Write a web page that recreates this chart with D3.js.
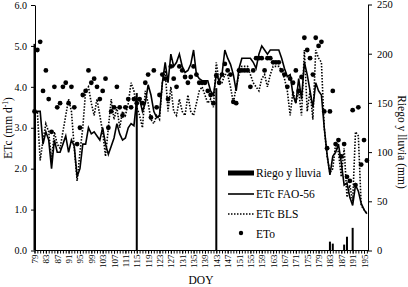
<!DOCTYPE html>
<html><head><meta charset="utf-8">
<script src="https://cdn.jsdelivr.net/npm/d3@7"></script>
<style>
body{margin:0;background:#fff}
svg{display:block}
text{font-family:"Liberation Serif","Times New Roman",serif;fill:#000}
</style>
</head><body>
<svg id="c" width="408" height="287"></svg>
<script>
const days = d3.range(79, 197);
const etcFao = [3.4,3.4,3.4,2.6,2.9,2.7,2.0,2.7,2.4,2.4,2.6,2.8,2.4,2.7,2.55,1.8,2.0,2.6,2.6,3.0,2.85,2.9,2.8,2.7,3.0,2.6,2.35,2.55,2.75,3.1,2.85,2.7,2.75,3.0,3.1,3.05,
  3.7,3.7,3.4,3.6,4.05,3.8,3.4,3.25,3.3,4.1,4.6,4.1,4.8,4.5,4.6,4.8,4.5,4.35,4.4,4.55,4.9,4.3,4.2,4.15,4.15,4.15,3.9,3.8,
  4.3,4.15,4.3,4.9,4.7,4.55,4.3,3.9,4.45,4.7,4.7,4.7,4.7,4.6,4.45,4.8,5.0,4.9,4.8,4.9,4.9,4.9,4.9,4.7,4.45,4.25,4.3,3.8,3.6,4.2,3.7,4.6,4.3,3.9,3.5,4.1,3.9,3.8,
  3.0,2.35,1.85,2.3,2.4,2.6,2.15,1.6,1.65,1.3,1.1,1.6,1.45,1.15,1.0,0.9];
const etcBls = [3.3,3.4,2.2,2.7,3.1,2.9,2.2,2.9,2.6,2.5,2.9,3.3,3.7,3.4,2.5,1.7,2.4,3.0,3.9,4.0,3.6,3.3,3.7,3.3,2.9,2.3,3.0,3.7,3.2,3.5,3.0,3.4,3.3,3.6,4.1,3.9,
  3.5,3.3,3.0,3.9,3.6,3.2,3.1,3.3,3.2,4.1,4.4,3.4,4.0,3.4,3.3,3.7,3.4,3.3,3.8,3.4,3.3,3.6,3.9,4.0,3.8,3.6,3.7,3.5,
  4.6,4.1,4.1,4.3,4.3,4.0,3.6,4.0,4.3,4.5,4.5,4.5,4.3,4.1,4.0,3.9,4.2,4.3,4.0,4.3,4.5,4.5,4.5,4.4,4.2,3.9,3.3,3.9,3.6,3.9,3.3,4.9,3.4,3.9,3.2,4.9,4.7,4.6,
  3.0,2.3,1.9,2.0,2.6,2.4,1.8,2.5,1.3,1.6,1.2,2.9,2.8,1.1,1.0,0.9];
const eto = [3.4,4.9,5.1,3.9,4.4,3.7,2.9,4.0,3.5,3.6,4.0,4.1,3.6,4.0,3.5,2.6,3.0,3.8,3.9,4.4,4.1,4.2,4.0,3.7,3.9,4.2,3.0,3.4,3.5,4.0,3.5,3.3,3.5,3.7,3.5,3.7,
  3.6,3.7,3.6,4.1,4.3,3.25,4.4,3.5,3.8,4.3,4.2,3.7,4.5,4.2,4.0,4.5,4.4,4.24,4.1,4.24,4.5,4.3,4.1,4.1,4.1,3.9,3.8,3.6,
  4.28,4.1,4.3,4.56,4.4,4.3,3.63,3.6,4.4,4.4,4.4,4.4,4.0,4.4,4.7,4.7,4.7,4.4,4.7,4.7,4.6,4.6,4.6,4.4,4.3,4.0,4.2,4.1,4.4,3.9,4.24,5.2,4.9,4.7,4.3,5.2,5.0,5.1,
  3.4,2.5,3.4,3.9,2.6,2.7,2.3,2.6,1.8,1.7,3.43,1.6,3.5,2.1,2.7,2.2];
const rainDays = [79,115,143,183,184,188,189,191];
const rainMm = [210,160,165,9,7,6,14,23];
const xLabelTicks = d3.range(79, 196, 4);
const yLeftTicks = [0,1,2,3,4,5,6];
const yRightTicks = [0,50,100,150,200,250];
const legendItems = ["Riego y lluvia","ETc FAO-56","ETc BLS","ETo"];

const svg = d3.select('#c');
const x = d3.scaleLinear().domain([79, 196.4]).range([34.5, 368]);
const yL = d3.scaleLinear().domain([0, 6]).range([250.5, 5]);
const yR = d3.scaleLinear().domain([0, 250]).range([250.5, 4.5]);

// bars
svg.append('g').selectAll('rect').data(rainDays).join('rect')
  .attr('x', (d) => x(d) - 1).attr('width', 2)
  .attr('y', (d, i) => yR(rainMm[i])).attr('height', (d, i) => yR(0) - yR(rainMm[i]))
  .attr('fill', '#000');

const lineOf = (vals) => d3.line().x((d, i) => x(days[i])).y((d) => yL(d))(vals);
svg.append('path').attr('d', lineOf(etcBls)).attr('fill', 'none').attr('stroke', '#000')
  .attr('stroke-width', 1.6).attr('stroke-dasharray', '1.5,1.5');
svg.append('path').attr('d', lineOf(etcFao)).attr('fill', 'none').attr('stroke', '#000')
  .attr('stroke-width', 1.6).attr('stroke-linejoin', 'miter');
svg.append('g').selectAll('circle').data(eto).join('circle')
  .attr('cx', (d, i) => x(days[i])).attr('cy', (d) => yL(d)).attr('r', 2.4).attr('fill', '#000');

// axes
const gL = svg.append('g').attr('transform', 'translate(35,0)')
  .call(d3.axisLeft(yL).tickValues(yLeftTicks).tickFormat(d3.format('.1f')).tickSize(4).tickSizeOuter(0).tickPadding(4));
gL.selectAll('text').style('font-size', '10px');
const gR = svg.append('g').attr('transform', 'translate(368,0)')
  .call(d3.axisRight(yR).tickValues(yRightTicks).tickSize(4).tickSizeOuter(0).tickPadding(5));
gR.selectAll('text').style('font-size', '10.5px');
const gB = svg.append('g').attr('transform', 'translate(0,250.5)')
  .call(d3.axisBottom(x).tickValues(days).tickFormat('').tickSize(3).tickSizeOuter(0));
gB.select('.domain').attr('d', 'M35,0H368');
const gBL = svg.append('g').attr('transform', 'translate(0,250.5)')
  .call(d3.axisBottom(x).tickValues(xLabelTicks).tickSize(3).tickSizeOuter(0));
gBL.select('.domain').remove();
gBL.selectAll('text').style('font-size', '9px').attr('text-anchor', 'end')
  .attr('transform', 'rotate(-90)').attr('x', -4).attr('y', 0).attr('dy', '0.33em');
svg.selectAll('.domain, .tick line').attr('stroke', '#000');
svg.selectAll('.tick text').style('font-family', '"Liberation Serif","Times New Roman",serif');

// titles
const tl = svg.append('text').attr('transform', 'translate(12,128) rotate(-90)')
  .attr('text-anchor', 'middle').style('font-size', '11.5px');
tl.append('tspan').text('ETc (mm d');
tl.append('tspan').text('-1').attr('baseline-shift', 'super').style('font-size', '7.5px');
tl.append('tspan').text(')');
svg.append('text').attr('transform', 'translate(398,142) rotate(90)')
  .attr('text-anchor', 'middle').style('font-size', '11.5px').text('Riego y lluvia (mm)');
svg.append('text').attr('x', 201).attr('y', 284).attr('text-anchor', 'middle')
  .style('font-size', '11.5px').text('DOY');

// legend
const lg = svg.append('g');
const rowY = [173, 194, 214, 234];
lg.selectAll('text').data(legendItems).join('text')
  .attr('x', 256).attr('y', (d, i) => rowY[i] + 4).style('font-size', '11.5px').text((d) => d);
lg.append('rect').attr('x', 228).attr('y', rowY[0] - 2.5).attr('width', 26).attr('height', 5).attr('fill', '#000');
lg.append('line').attr('x1', 228).attr('x2', 254).attr('y1', rowY[1]).attr('y2', rowY[1])
  .attr('stroke', '#000').attr('stroke-width', 1.6);
lg.append('line').attr('x1', 228).attr('x2', 254).attr('y1', rowY[2]).attr('y2', rowY[2])
  .attr('stroke', '#000').attr('stroke-width', 1.6).attr('stroke-dasharray', '1.5,1.5');
lg.append('circle').attr('cx', 241).attr('cy', rowY[3] - 1).attr('r', 2.2).attr('fill', '#000');
</script>
</body></html>
